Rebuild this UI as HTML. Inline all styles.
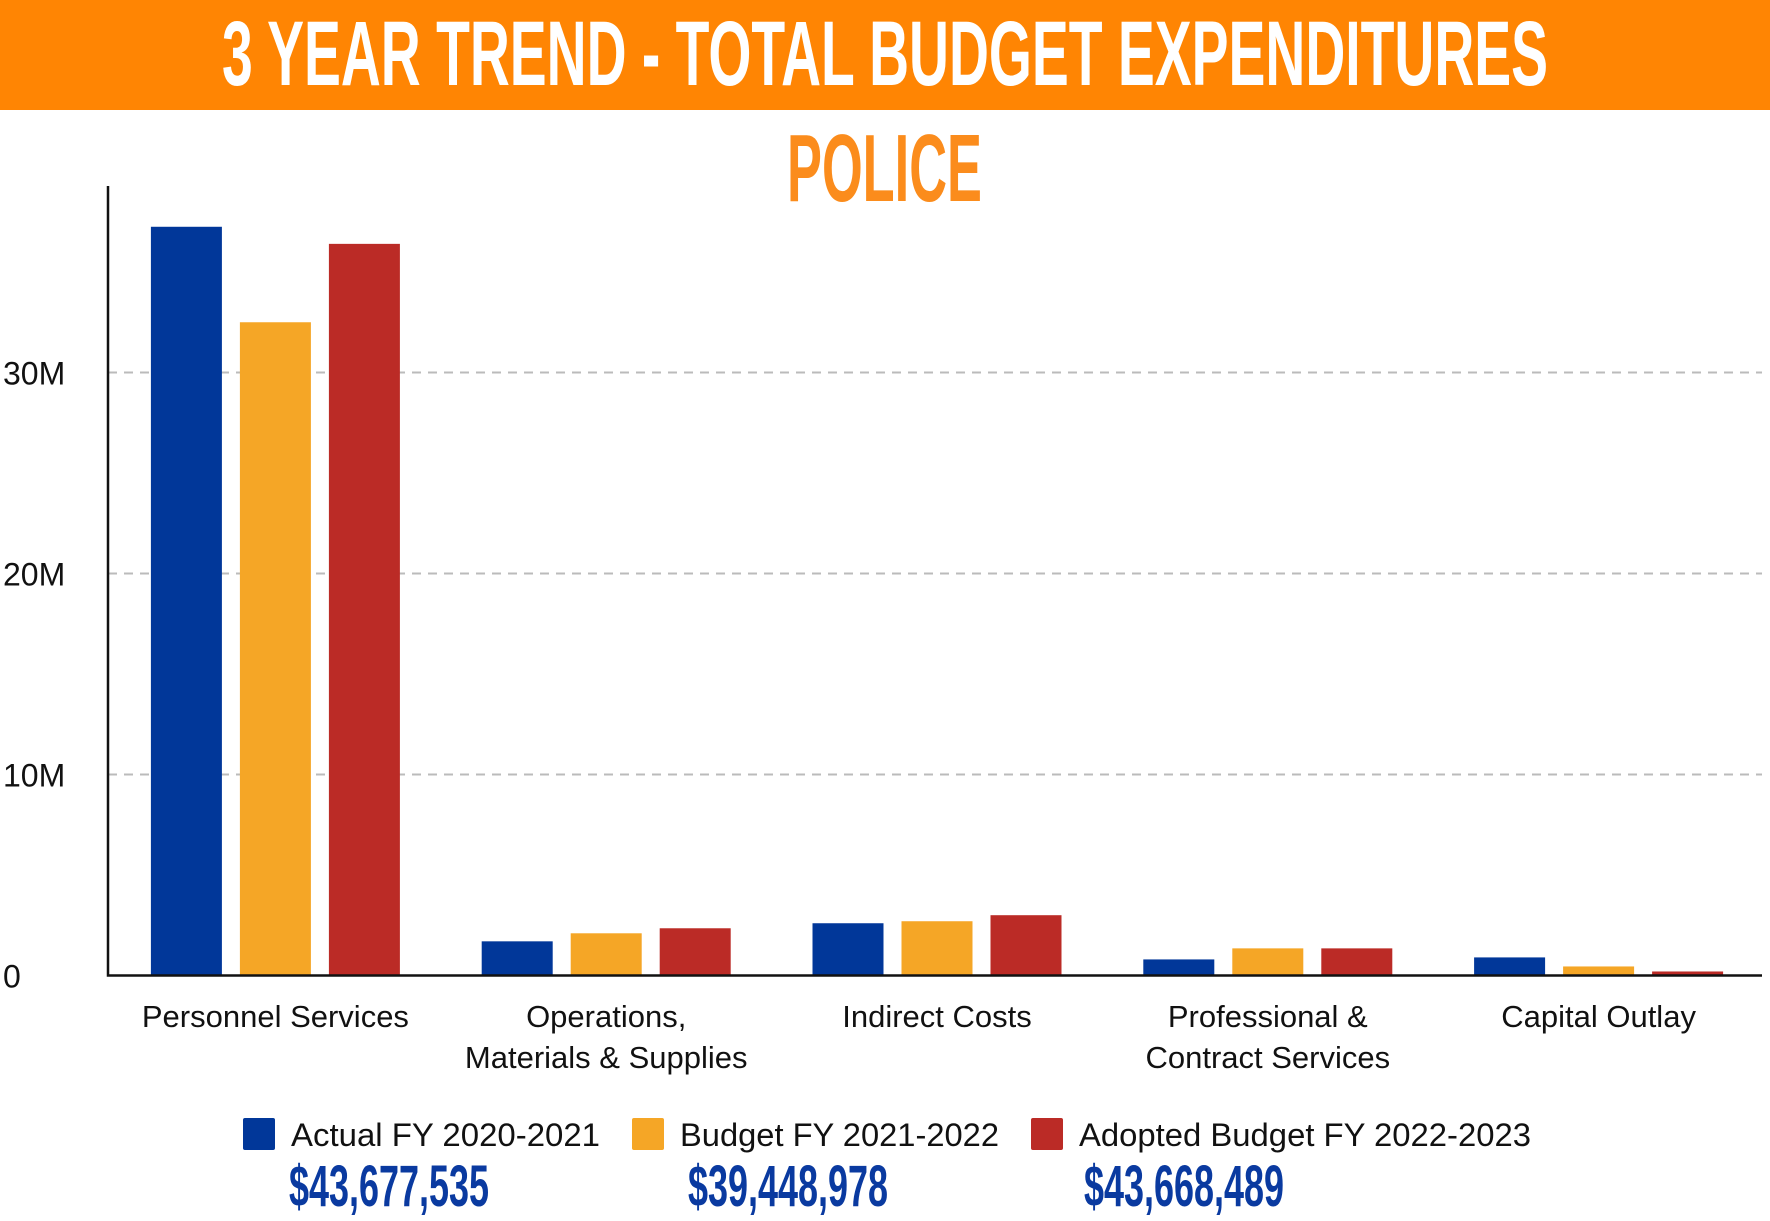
<!DOCTYPE html>
<html><head><meta charset="utf-8"><style>html,body{margin:0;padding:0;background:#fff}svg{display:block}</style></head>
<body>
<svg id="chart" width="1770" height="1221" viewBox="0 0 1770 1221" xmlns="http://www.w3.org/2000/svg">
<rect x="0" y="0" width="1770" height="110" fill="#ff8503"/>
<text x="222" y="85" font-family="Liberation Sans, sans-serif" font-weight="bold" font-size="92" fill="#fff" textLength="1326" lengthAdjust="spacingAndGlyphs">3 YEAR TREND - TOTAL BUDGET EXPENDITURES</text>
<text x="787" y="201" font-family="Liberation Sans, sans-serif" font-weight="bold" font-size="96" fill="#fb8c1c" textLength="195" lengthAdjust="spacingAndGlyphs">POLICE</text>
<g id="grid"></g>
<g id="bars"></g>
<g id="axes"></g>
<g id="legend"></g>
</svg>
<script>
const categories = [["Personnel Services"],["Operations,","Materials & Supplies"],["Indirect Costs"],["Professional &","Contract Services"],["Capital Outlay"]];
const actual = [37.25, 1.7, 2.6, 0.8, 0.9];
const budget = [32.5, 2.1, 2.7, 1.35, 0.45];
const adopted = [36.4, 2.35, 3.0, 1.35, 0.2];
const ticks = [0, 10, 20, 30];
const tickLabels = ["0", "10M", "20M", "30M"];
const seriesNames = ["Actual FY 2020-2021", "Budget FY 2021-2022", "Adopted Budget FY 2022-2023"];
const totals = ["$43,677,535", "$39,448,978", "$43,668,489"];

const NS = "http://www.w3.org/2000/svg";
const colors = ["#013799", "#f5a626", "#bb2b26"];
const x0 = 108, x1 = 1762, yBase = 975.5, pxPer = 20.1, yTop = 186;
const y = v => yBase - v * pxPer;
const groupW = (x1 - x0) / categories.length;
const gx = i => x0 + 2 + groupW * (i + 0.5);
function mk(tag, attrs, parent) { const e = document.createElementNS(NS, tag); for (const k in attrs) e.setAttribute(k, attrs[k]); parent.appendChild(e); return e; }
const grid = document.getElementById('grid'), barsG = document.getElementById('bars'), axes = document.getElementById('axes'), legend = document.getElementById('legend');

ticks.forEach((t, i) => {
  if (t > 0) {
    const l = mk('line', {x1: x0, x2: x1, y1: y(t), y2: y(t), stroke: '#bbb', 'stroke-width': 2, 'stroke-dasharray': '9 7'}, grid);
    
    
  }
  const tx = mk('text', {x: 3, y: y(t) + 12, 'font-family': 'Liberation Sans, sans-serif', 'font-size': 32, fill: '#111'}, axes);
  tx.textContent = tickLabels[i];
  
  
});

const series = [actual, budget, adopted];
const barW = 71, step = 89;
categories.forEach((c, i) => {
  series.forEach((s, j) => {
    const cx = gx(i) + (j - 1) * step;
    const r = mk('rect', {x: cx - barW / 2, y: y(s[i]), width: barW, height: yBase - y(s[i]), fill: colors[j]}, barsG);
    
    
  });
  c.forEach((line, k) => {
    const t = mk('text', {x: gx(i), y: 1027 + k * 41, 'text-anchor': 'middle', 'font-family': 'Liberation Sans, sans-serif', 'font-size': 31, fill: '#111'}, axes);
    t.textContent = line;
    
    
  });
});

const ax = mk('path', {d: `M${x0} ${yTop} V${yBase} H${x1}`, fill: 'none', stroke: '#111', 'stroke-width': 2.5}, axes);



const legX = [243, 632, 1031], legTX = [291, 680, 1079], legTW = [309, 319, 452], totX = [289, 688, 1084];
seriesNames.forEach((n, j) => {
  const sq = mk('rect', {x: legX[j], y: 1118, width: 32, height: 32, rx: 2, fill: colors[j]}, legend);
  
  
  const t = mk('text', {x: legTX[j], y: 1146, 'font-family': 'Liberation Sans, sans-serif', 'font-size': 32, fill: '#111', textLength: legTW[j], lengthAdjust: 'spacingAndGlyphs'}, legend);
  t.textContent = n;
  
  
  const a = mk('text', {x: totX[j], y: 1206, 'font-family': 'Liberation Sans, sans-serif', 'font-weight': 'bold', 'font-size': 58, fill: '#0a3aa0', textLength: 200, lengthAdjust: 'spacingAndGlyphs'}, legend);
  a.textContent = totals[j];
  
  
});
</script>
</body></html>
